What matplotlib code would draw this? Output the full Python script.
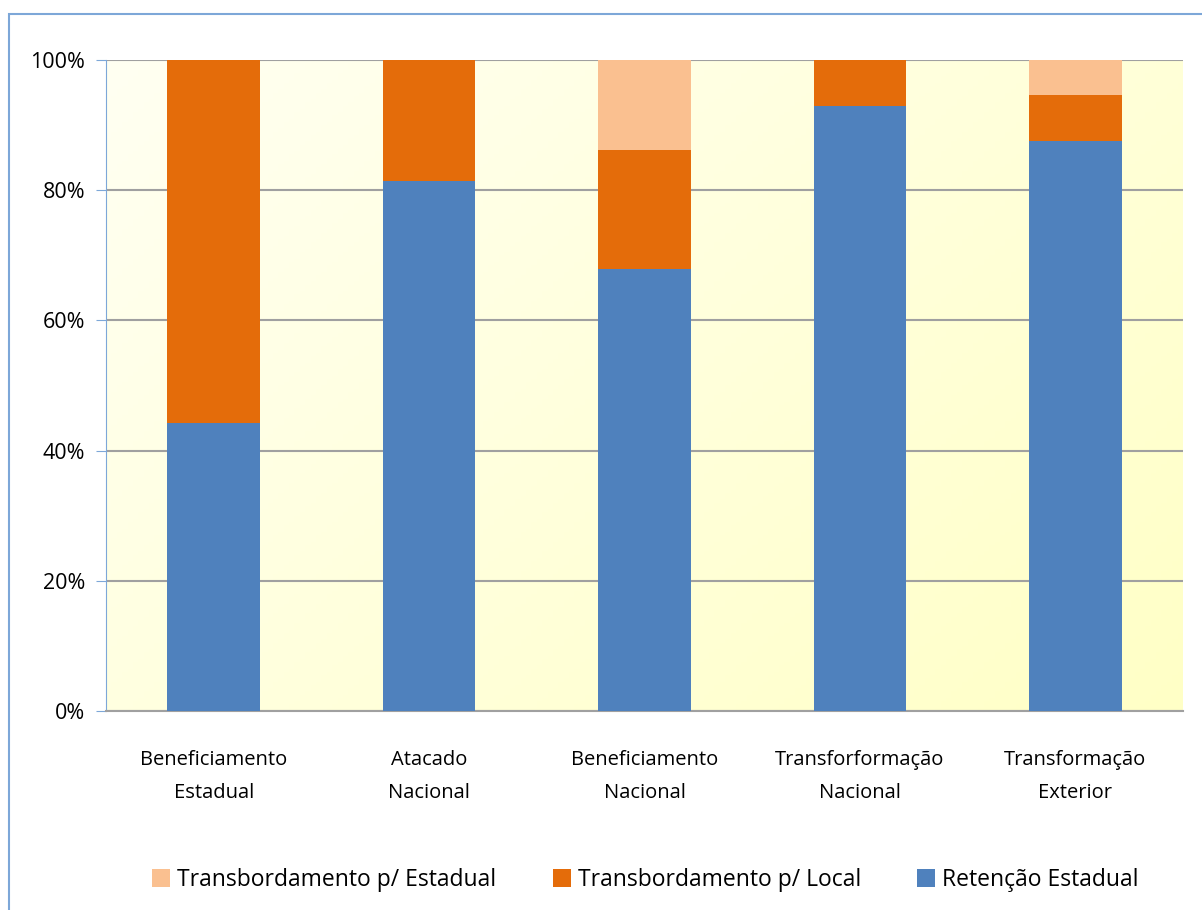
import numpy as np
import matplotlib.pyplot as plt
from matplotlib.patches import Rectangle
from matplotlib.colors import LinearSegmentedColormap

# categories and stacked shares (%)
categorias = ["Beneficiamento\nEstadual", "Atacado\nNacional", "Beneficiamento\nNacional",
              "Transforformação\nNacional", "Transformação\nExterior"]
retencao_estadual = [44.2, 81.4, 67.9, 92.9, 87.6]
transb_local = [55.8, 18.6, 18.3, 7.1, 7.0]
transb_estadual = [0.0, 0.0, 13.8, 0.0, 5.4]

COR_RET = "#4f81bd"
COR_LOC = "#e46c0a"
COR_EST = "#fac090"

plt.rcParams['font.family'] = ['Open Sans', 'DejaVu Sans']

fig = plt.figure(figsize=(12.02, 9.10), dpi=100)
W, H = 1202, 910
ax = fig.add_axes([106 / W, 1 - 711 / H, (1183 - 106) / W, (711 - 60) / H])

# outer chart border (runs off the right/bottom edge)
fig.patches.append(Rectangle((8.5 / W, -0.05), 1.1, 1 - 14.5 / H + 0.05,
                             transform=fig.transFigure, fill=False,
                             edgecolor="#7da7d8", linewidth=1.5))

# gradient background
gx, gy = np.meshgrid(np.linspace(0, 1, 200), np.linspace(0, 1, 200))
grad = (gx * 0.6 + gy * 0.4)
cmap = LinearSegmentedColormap.from_list("bg", ["#fffff2", "#ffffc6"])
ax.imshow(grad, extent=[-0.5, 4.5, 0, 100], origin="upper", aspect="auto",
          cmap=cmap, zorder=0)

x = np.arange(len(categorias))
w = 0.43
ax.bar(x, retencao_estadual, w, color=COR_RET, label="Retenção Estadual", zorder=3)
ax.bar(x, transb_local, w, bottom=retencao_estadual, color=COR_LOC,
       label="Transbordamento p/ Local", zorder=3)
base2 = np.array(retencao_estadual) + np.array(transb_local)
ax.bar(x, transb_estadual, w, bottom=base2, color=COR_EST,
       label="Transbordamento p/ Estadual", zorder=3)

ax.set_xlim(-0.5, 4.5)
ax.set_ylim(0, 100)
ax.set_yticks(range(0, 101, 20))
ax.set_yticklabels([f"{v}%" for v in range(0, 101, 20)], fontsize=15.5)
ax.set_xticks(x)
ax.set_xticklabels(categorias, fontsize=14.5, linespacing=1.85)
ax.tick_params(axis="x", length=0, pad=28)
ax.tick_params(axis="y", length=7, color="#7da7d8", pad=8)
ax.yaxis.grid(True, color="#a0a0a0", linewidth=1.5, zorder=1)
ax.set_axisbelow(True)

for s in ["top", "right"]:
    ax.spines[s].set_visible(False)
ax.spines["left"].set_color("#7da7d8")
ax.spines["bottom"].set_color("#a0a0a0")
ax.spines["bottom"].set_linewidth(1.5)

h, l = ax.get_legend_handles_labels()
fig.legend(h[::-1], l[::-1], loc="center", bbox_to_anchor=(0.537, 1 - 880 / H),
           ncol=3, frameon=False, fontsize=16.5, handlelength=0.8, handleheight=0.8,
           handletextpad=0.3, columnspacing=2.45)

fig.savefig("out.png", dpi=100)
